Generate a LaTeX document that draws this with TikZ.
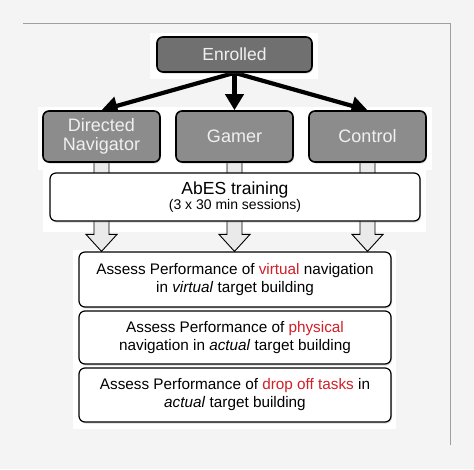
\documentclass[tikz,border=0pt]{standalone}
\usepackage{fontspec}
\setmainfont{Liberation Sans}
\usetikzlibrary{arrows.meta,shadows,calc,backgrounds}
\definecolor{bggray}{RGB}{244,244,244}
\definecolor{topgray}{RGB}{112,112,112}
\definecolor{grpgray}{RGB}{140,140,140}
\definecolor{hlred}{RGB}{208,32,40}
\definecolor{bargray}{RGB}{234,234,234}
\begin{document}
\begin{tikzpicture}
[x=1pt, y=-1pt, line join=round, >={Triangle[length=16pt,width=18pt]},
 boxshadow/.style={drop shadow={shadow xshift=1pt, shadow yshift=-1.5pt, opacity=.3}},
 darkbox/.style={draw=black, line width=1.6pt, rounded corners=6pt, text=white!94!black, align=center, boxshadow},
 topbox/.style={darkbox, fill=topgray, minimum width=155pt, minimum height=35pt, font=\fontsize{17.5}{19}\selectfont},
 grpbox/.style={darkbox, fill=grpgray, minimum width=117pt, minimum height=51pt, font=\fontsize{18}{19}\selectfont},
 whitebox/.style={draw=black, line width=1.2pt, fill=white, rounded corners=6pt, align=center, boxshadow},
 assessbox/.style={whitebox, minimum width=312pt, minimum height=53pt, font=\fontsize{15.3}{18}\selectfont},
 bigarrow/.style={->, line width=4.2pt},
 hollowbar/.style={draw=black, line width=.9pt, fill=bargray}]
\useasboundingbox (0,0) rectangle (474,469);

% boxes
\node[topbox] (en) at (234.5,54.5) {Enrolled};
\node[grpbox] (dn) at (101.5,136.5) {Directed\\Navigator};
\node[grpbox] (gm) at (234.5,136.5) {Gamer};
\node[grpbox] (ct) at (367.5,136.5) {Control};
\node[whitebox, minimum width=370pt, minimum height=48pt] (abes) at (235,197)
  {{\fontsize{17.5}{19}\selectfont AbES training}\\[1pt]{\fontsize{14}{15}\selectfont (3 x 30 min sessions)}};
\node[assessbox, minimum height=55pt] (as1) at (235,279.5)
  {Assess Performance of \textcolor{hlred}{virtual} navigation\\in \textit{virtual} target building};
\node[assessbox] (as2) at (235,337.5)
  {Assess Performance of \textcolor{hlred}{physical}\\navigation in \textit{actual} target building};
\node[assessbox, minimum height=54pt] (as3) at (235,395)
  {Assess Performance of \textcolor{hlred}{drop off tasks} in\\\textit{actual} target building};

\begin{scope}[on background layer]
\fill[bggray] (0,0) rectangle (474,469);
\draw[gray!75, line width=.8pt] (23,23) -- (450,23) -- (450,445);
\fill[white] (150,33) rectangle (318,79);
\fill[white] (38,107) rectangle (432,170);
\fill[white] (43,170) rectangle (426,232);
\fill[white] (73,250) rectangle (396,429);
% hollow arrows through the training box
\foreach \g in {dn,gm,ct}
\draw[hollowbar] ($(\g.south)+(-7.5,0)$) -- ($(\g.south |- as1.north)+(-7.5,-17)$)
  -- ($(\g.south |- as1.north)+(-15.5,-17)$) -- (\g.south |- as1.north)
  -- ($(\g.south |- as1.north)+(15.5,-17)$) -- ($(\g.south |- as1.north)+(7.5,-17)$)
  -- ($(\g.south)+(7.5,0)$);
% black arrows
\draw[bigarrow] (en.south) -- (dn.north);
\draw[bigarrow] (en.south) -- (gm.north);
\draw[bigarrow] (en.south) -- (ct.north);
\end{scope}
\end{tikzpicture}
\end{document}
